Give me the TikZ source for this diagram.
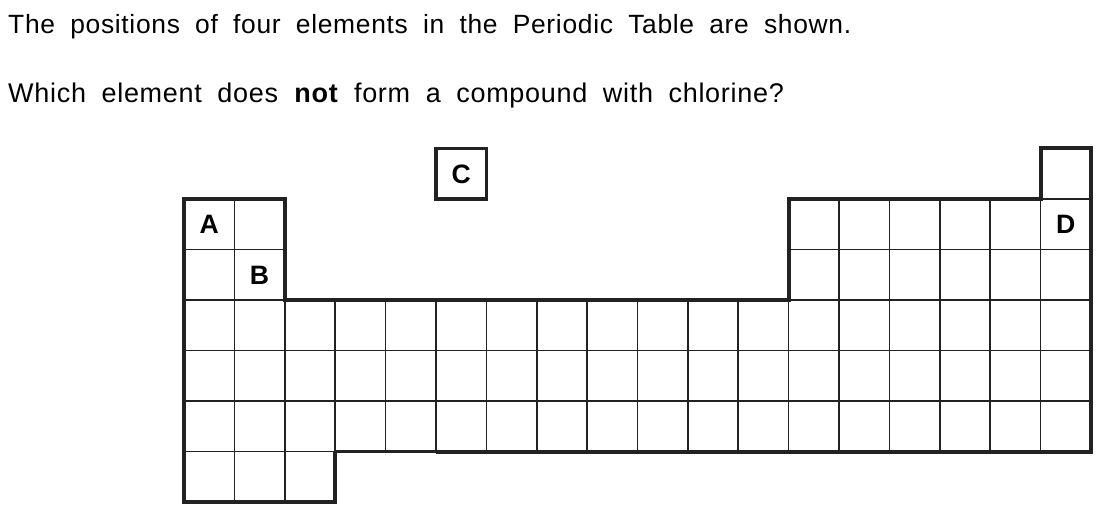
\documentclass[tikz,border=0pt]{standalone}
\usepackage{fontspec}
\setmainfont{Liberation Sans}
\newfontfamily\qfont{Liberation Sans}[LetterSpace=2.6, WordSpace=1.9]
\definecolor{ink}{HTML}{222222}

\begin{document}
\begin{tikzpicture}[x=1pt, y=-1pt]
  \tikzset{
    question/.style={font=\qfont\fontsize{#1}{30}\selectfont, inner sep=0pt, anchor=base west},
    cell/.style={draw=ink, line width=1.6pt},
    rim/.style={draw=ink, line width=4pt, line join=miter},
    tag/.style={font=\fontsize{26.6}{30}\selectfont\bfseries, inner sep=0pt,
                text height=19pt, text depth=0pt}
  }
  \useasboundingbox (0,0) rectangle (1111,524);

  % Question text
  \node[question=26.4] (line1) at (8,33.3) {The positions of four elements in the Periodic Table are shown.};
  \node[question=27] (line2) at (8,102.5) {Which element does \textbf{not} form a compound with chlorine?};

  % Table grid: one unit = one cell, y runs downward
  \begin{scope}[shift={(184,199)}, x=50.39pt, y=-50.5pt]

    % Rows 1-2: s block and p block only
    \foreach \r in {0,1}
      \foreach \c in {0,1,12,13,14,15,16,17}
        \draw[cell] (\c,\r) rectangle ++(1,1);

    % Rows 3-5: full width
    \foreach \r in {2,3,4}
      \foreach \c in {0,...,17}
        \draw[cell] (\c,\r) rectangle ++(1,1);

    % Row 6: first three columns
    \foreach \c in {0,1,2}
      \draw[cell] (\c,5) rectangle ++(1,1);

    % Cell above the last column
    \draw[cell] (17,-1) rectangle ++(1,1);

    % Heavy outline
    \draw[rim] (3,5) -- (3,6) -- (0,6) -- (0,0) -- (2,0) -- (2,2) -- (12,2)
      -- (12,0) -- (17,0) -- (17,-1) -- (18,-1) -- (18,5) -- (5,5);
    \draw[draw=ink, line width=2.7pt] (5,5) -- (3,5);

    % Separate box for C
    \draw[draw=ink, line width=3.3pt] (5,-1) rectangle (6,0);

    % Element letters
    \node[tag] (A) at (0.5,0.5) {A};
    \node[tag] (B) at (1.5,1.5) {B};
    \node[tag] (C) at (5.5,-0.5) {C};
    \node[tag] (D) at (17.5,0.5) {D};
  \end{scope}
\end{tikzpicture}
\end{document}
